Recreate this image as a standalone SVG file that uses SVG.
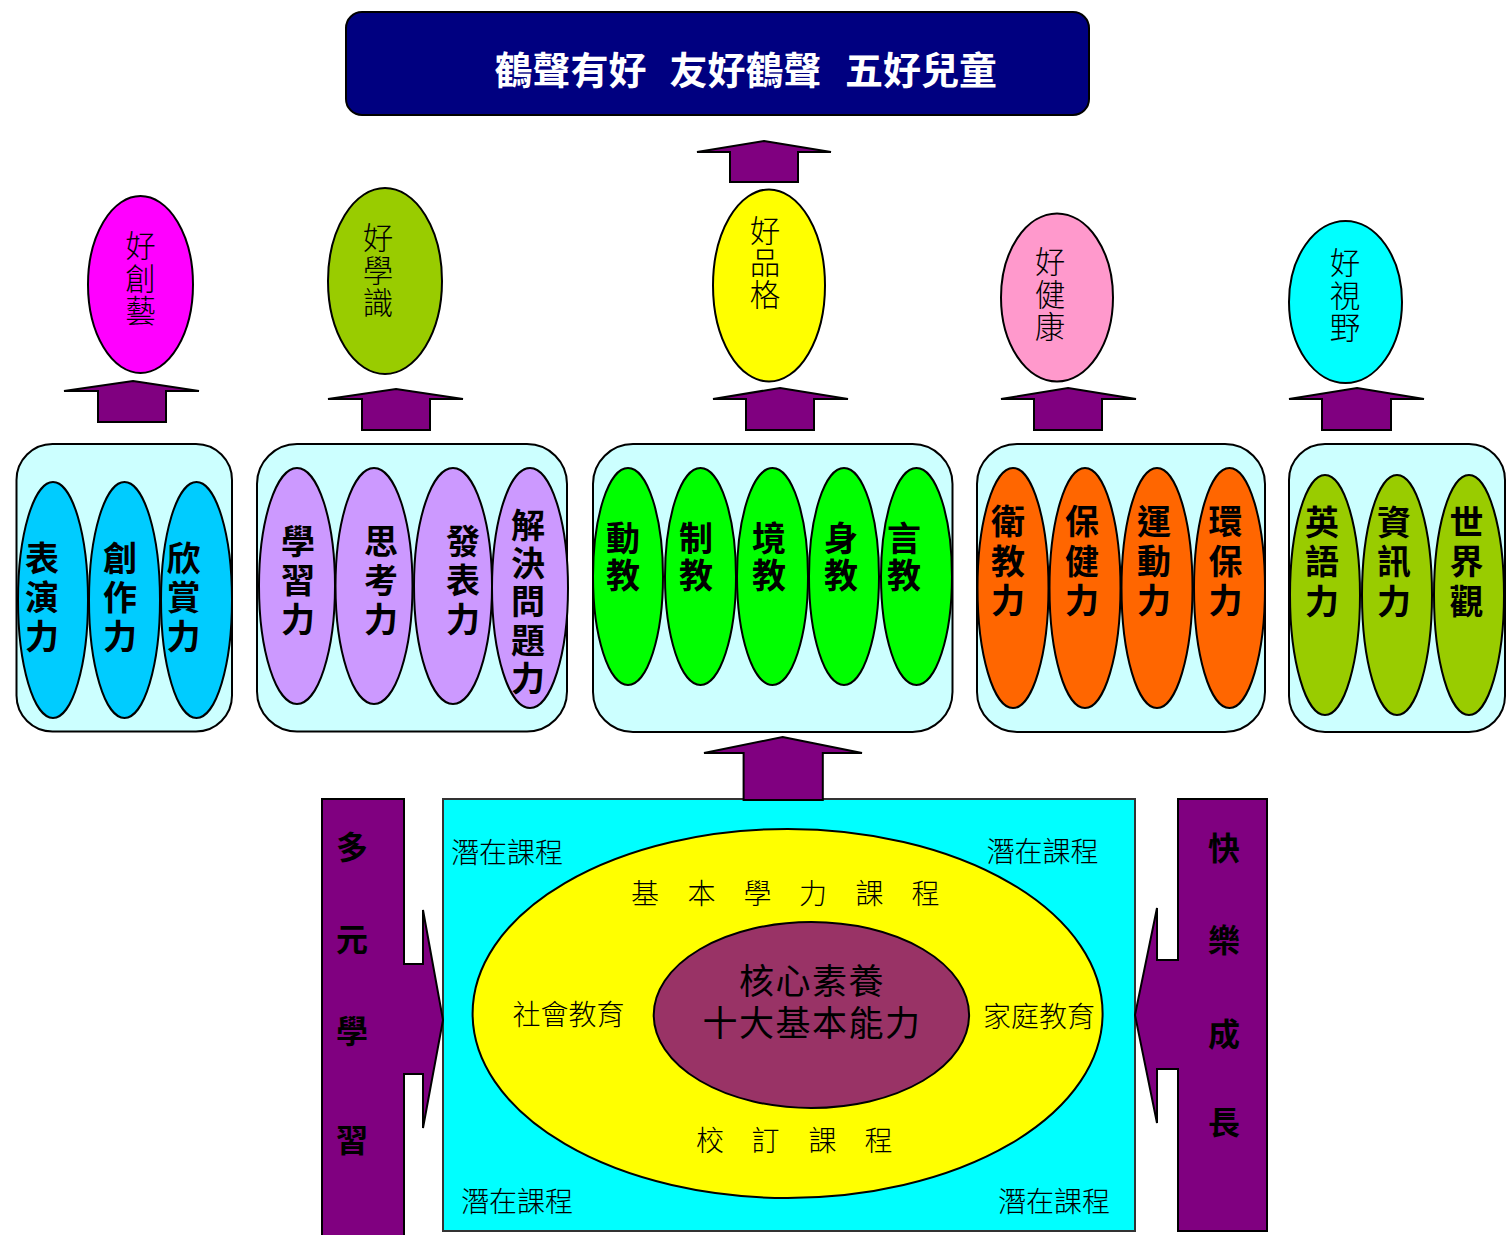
<svg xmlns="http://www.w3.org/2000/svg" width="1506" height="1235" viewBox="0 0 1506 1235">
<style>
.s{stroke:#000;stroke-width:2}
.arrow{fill:#800080;stroke:#000;stroke-width:2;stroke-linejoin:miter}
.box{fill:#CCFFFF;stroke:#000;stroke-width:2}
.v{writing-mode:vertical-rl;text-orientation:upright;text-anchor:start}
.lt{font-family:"Noto Sans CJK TC","Noto Sans CJK SC",sans-serif;font-weight:300;font-size:30.5px;fill:#000;letter-spacing:2px}
.bd{font-family:"Noto Sans CJK TC","Noto Sans CJK SC",sans-serif;font-weight:700;font-size:34px;fill:#000}
.sm{font-family:"Noto Sans CJK TC","Noto Sans CJK SC",sans-serif;font-weight:300;font-size:28px;fill:#000;text-anchor:middle}
.core{font-family:"Noto Sans CJK TC","Noto Sans CJK SC",sans-serif;font-weight:400;font-size:35px;fill:#000;text-anchor:middle;letter-spacing:1.5px}
.ban{font-family:"Noto Sans CJK TC","Noto Sans CJK SC",sans-serif;font-weight:700;font-size:38px;fill:#fff}
.bar{font-family:"Noto Sans CJK TC","Noto Sans CJK SC",sans-serif;font-weight:700;font-size:32px;fill:#000;text-anchor:middle}
</style>
<rect width="1506" height="1235" fill="#fff"/>

<g id="banner">
<rect x="346" y="12" width="743" height="103" rx="16" fill="#000080" class="s"/>
<text class="ban" y="84"><tspan x="494.5">鶴聲有好</tspan><tspan x="669.5">友好鶴聲</tspan><tspan x="845">五好兒童</tspan></text>
</g>

<g id="good-art">
<ellipse cx="140.5" cy="284.5" rx="52.5" ry="88.5" fill="#FF00FF" class="s"/>
<text class="lt v" x="140.5" y="230.5">好創藝</text>
</g>
<g id="good-knowledge">
<ellipse cx="385" cy="281" rx="57" ry="93" fill="#99CC00" class="s"/>
<text class="lt v" x="378" y="222.5">好學識</text>
</g>
<g id="good-character">
<ellipse cx="769" cy="285.5" rx="56" ry="96" fill="#FFFF00" class="s"/>
<text class="lt v" x="765" y="215.5" style="letter-spacing:1.5px">好品格</text>
</g>
<g id="good-health">
<ellipse cx="1057" cy="297.5" rx="56" ry="84" fill="#FF99CC" class="s"/>
<text class="lt v" x="1050" y="246.5">好健康</text>
</g>
<g id="good-vision">
<ellipse cx="1345.5" cy="302" rx="56.5" ry="81" fill="#00FFFF" class="s"/>
<text class="lt v" x="1345" y="247.5">好視野</text>
</g>

<g id="group-art">
<rect x="16.5" y="444" width="215.5" height="287.5" rx="36" class="box"/>
<ellipse cx="53" cy="600" rx="35" ry="118" fill="#00CCFF" class="s"/>
<ellipse cx="124.5" cy="600" rx="35.5" ry="118" fill="#00CCFF" class="s"/>
<ellipse cx="196.5" cy="600" rx="35.5" ry="118" fill="#00CCFF" class="s"/>
<text class="bd v" x="42" y="541" style="letter-spacing:5px">表演力</text>
<text class="bd v" x="120" y="541" style="letter-spacing:5px">創作力</text>
<text class="bd v" x="183.5" y="541" style="letter-spacing:5px">欣賞力</text>
</g>

<g id="group-knowledge">
<rect x="257" y="444" width="310" height="287.5" rx="40" class="box"/>
<ellipse cx="297" cy="586" rx="38" ry="118" fill="#CC99FF" class="s"/>
<ellipse cx="374" cy="586" rx="38.5" ry="118" fill="#CC99FF" class="s"/>
<ellipse cx="453" cy="586" rx="39" ry="118" fill="#CC99FF" class="s"/>
<ellipse cx="530" cy="588" rx="38" ry="120" fill="#CC99FF" class="s"/>
<text class="bd v" x="298" y="524" style="letter-spacing:5px">學習力</text>
<text class="bd v" x="381" y="524" style="letter-spacing:5px">思考力</text>
<text class="bd v" x="463" y="524" style="letter-spacing:5px">發表力</text>
<text class="bd v" x="528" y="508" style="letter-spacing:4.25px">解決問題力</text>
</g>

<g id="group-character">
<rect x="593" y="444" width="359.5" height="288" rx="40" class="box"/>
<ellipse cx="628" cy="576.5" rx="35" ry="108.5" fill="#00FF00" class="s"/>
<ellipse cx="700.5" cy="576.5" rx="35.5" ry="108.5" fill="#00FF00" class="s"/>
<ellipse cx="772.5" cy="576.5" rx="35.5" ry="108.5" fill="#00FF00" class="s"/>
<ellipse cx="844" cy="576.5" rx="35" ry="108.5" fill="#00FF00" class="s"/>
<ellipse cx="916.5" cy="576.5" rx="35.5" ry="108.5" fill="#00FF00" class="s"/>
<text class="bd v" x="623" y="521" style="letter-spacing:3px">動教</text>
<text class="bd v" x="696" y="521" style="letter-spacing:3px">制教</text>
<text class="bd v" x="769" y="521" style="letter-spacing:3px">境教</text>
<text class="bd v" x="841" y="521" style="letter-spacing:3px">身教</text>
<text class="bd v" x="904" y="521" style="letter-spacing:3px">言教</text>
</g>

<g id="group-health">
<rect x="977" y="444" width="288" height="288" rx="40" class="box"/>
<ellipse cx="1013" cy="588" rx="35.5" ry="120" fill="#FF6600" class="s"/>
<ellipse cx="1085" cy="588" rx="35.5" ry="120" fill="#FF6600" class="s"/>
<ellipse cx="1157" cy="588" rx="35.5" ry="120" fill="#FF6600" class="s"/>
<ellipse cx="1229.5" cy="588" rx="35.5" ry="120" fill="#FF6600" class="s"/>
<text class="bd v" x="1008" y="504.5" style="letter-spacing:5.5px">衛教力</text>
<text class="bd v" x="1082" y="504.5" style="letter-spacing:5.5px">保健力</text>
<text class="bd v" x="1154" y="504.5" style="letter-spacing:5.5px">運動力</text>
<text class="bd v" x="1225.5" y="504.5" style="letter-spacing:5.5px">環保力</text>
</g>

<g id="group-vision">
<rect x="1289" y="444" width="216" height="288" rx="36" class="box"/>
<ellipse cx="1325" cy="595" rx="35" ry="120" fill="#99CC00" class="s"/>
<ellipse cx="1397" cy="595" rx="35" ry="120" fill="#99CC00" class="s"/>
<ellipse cx="1469" cy="595" rx="35" ry="120" fill="#99CC00" class="s"/>
<text class="bd v" x="1322" y="505" style="letter-spacing:5.5px">英語力</text>
<text class="bd v" x="1394" y="505" style="letter-spacing:5.5px">資訊力</text>
<text class="bd v" x="1466.5" y="505" style="letter-spacing:5.5px">世界觀</text>
</g>

<g id="curriculum">
<rect x="443" y="799" width="692" height="432" fill="#00FFFF" stroke="#333" stroke-width="2"/>
<ellipse cx="787.6" cy="1013.5" rx="315" ry="184.5" fill="#FFFF00" class="s"/>
<ellipse cx="811.4" cy="1015" rx="157.7" ry="93" fill="#993366" class="s"/>
<text class="sm" x="507" y="863">潛在課程</text>
<text class="sm" x="1042.5" y="862">潛在課程</text>
<text class="sm" x="517" y="1212">潛在課程</text>
<text class="sm" x="1054" y="1212">潛在課程</text>
<text class="sm" y="904"><tspan x="645">基</tspan><tspan x="701.5">本</tspan><tspan x="757.6">學</tspan><tspan x="813">力</tspan><tspan x="869.6">課</tspan><tspan x="925.5">程</tspan></text>
<text class="sm" y="1151"><tspan x="710">校</tspan><tspan x="765.6">訂</tspan><tspan x="822.5">課</tspan><tspan x="878.6">程</tspan></text>
<text class="sm" x="568.6" y="1025">社會教育</text>
<text class="sm" x="1039" y="1027">家庭教育</text>
<text class="core" x="812" y="994">核心素養</text>
<text class="core" x="812" y="1036">十大基本能力</text>
</g>

<g id="diverse-learning">
<polygon class="arrow" points="322,799 404,799 404,964 423,964 423,910 443,1020 423,1128 423,1074 404,1074 404,1240 322,1240"/>
<text class="bar"><tspan x="352" y="859">多</tspan><tspan x="352" y="950.5">元</tspan><tspan x="352" y="1043">學</tspan><tspan x="352" y="1152">習</tspan></text>
</g>

<g id="happy-growth">
<polygon class="arrow" points="1178,799 1267,799 1267,1231 1178,1231 1178,1069 1157,1069 1157,1123 1135,1015 1157,908 1157,960 1178,960"/>
<text class="bar"><tspan x="1224" y="860">快</tspan><tspan x="1224" y="952">樂</tspan><tspan x="1224" y="1046">成</tspan><tspan x="1224" y="1134">長</tspan></text>
</g>

<g id="connectors">
<polygon class="arrow" points="764,141 831,152 798,152 798,182 730,182 730,152 697,152"/>
<polygon class="arrow" points="133,381 199,391 166,391 166,422 98,422 98,391 64,391"/>
<polygon class="arrow" points="396,389 463,399 430,399 430,430 362,430 362,399 328,399"/>
<polygon class="arrow" points="780,388 848,399 814,399 814,430 746,430 746,399 713,399"/>
<polygon class="arrow" points="1068,388 1136,399 1102,399 1102,430 1034,430 1034,399 1001,399"/>
<polygon class="arrow" points="1357,388 1424,399 1391,399 1391,430 1322,430 1322,399 1289,399"/>
<polygon class="arrow" points="782.6,737 862,753 822.8,753 822.8,800 743.6,800 743.6,753 704,753"/>
</g>
</svg>
